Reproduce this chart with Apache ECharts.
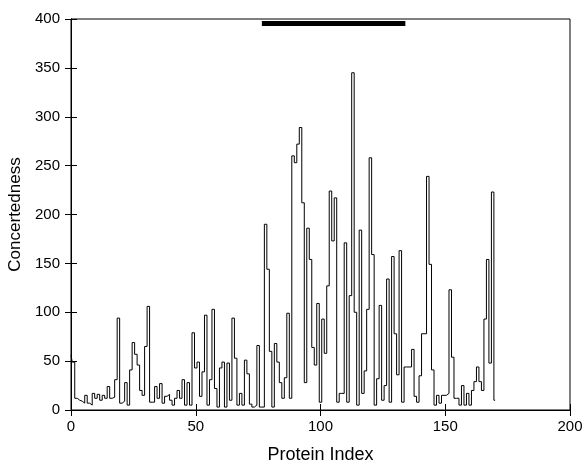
<!DOCTYPE html>
<html>
<head>
<meta charset="utf-8">
<script src="https://cdn.jsdelivr.net/npm/echarts@6/dist/echarts.min.js"></script>
<style>
  html, body { margin: 0; padding: 0; background: #fff; }
  #main { width: 584px; height: 464px; }
</style>
</head>
<body>
<div id="main"></div>
<script>
// concertedness per protein index (0..170)
const concertedness = [
  56, 49, 12, 10, 9, 7, 15, 7, 5, 17,
  12, 16, 10, 15, 12, 24, 12, 13, 31, 94,
  7, 9, 28, 5, 41, 69, 57, 46, 20, 15,
  65, 106, 8, 8, 24, 12, 27, 7, 14, 16,
  10, 5, 12, 20, 12, 31, 5, 28, 5, 79,
  43, 49, 14, 39, 97, 5, 31, 103, 22, 3,
  43, 49, 3, 48, 10, 94, 53, 5, 17, 5,
  51, 37, 6, 3, 5, 66, 3, 3, 190, 144,
  60, 3, 68, 49, 28, 12, 33, 99, 12, 260,
  253, 272, 289, 212, 28, 186, 154, 64, 46, 109,
  8, 93, 58, 127, 224, 173, 217, 8, 17, 17,
  171, 8, 117, 345, 100, 5, 184, 17, 40, 103,
  258, 159, 5, 32, 107, 10, 25, 134, 8, 157,
  78, 36, 163, 8, 44, 44, 44, 62, 14, 8,
  35, 78, 78, 239, 149, 41, 5, 15, 7, 15,
  15, 17, 123, 54, 12, 12, 5, 25, 5, 17,
  5, 20, 29, 44, 29, 20, 93, 154, 48, 223,
  10
];
// thick marker bar near the top of the plot
const barRange = [76.5, 134];
const barLevel = 395.5;

const xTicks = { min: 0, max: 200, interval: 50 };
const yTicks = { min: 0, max: 400, interval: 50 };

const font = 'Liberation Sans, Arial, Helvetica, sans-serif';
const stepData = concertedness.map((v, i) => [i, v]);

const chart = echarts.init(document.getElementById('main'), null, { renderer: 'canvas' });

const tick = { show: true, inside: true, length: 6, lineStyle: { color: '#000', width: 1 } };

chart.setOption({
  animation: false,
  grid: {
    left: 71, right: 14, top: 19, bottom: 54,
    outerBoundsMode: 'none', containLabel: false,
    show: true, borderColor: '#000', borderWidth: 1
  },
  xAxis: [
    {
      type: 'value', ...xTicks,
      name: 'Protein Index', nameLocation: 'middle', nameGap: 36,
      nameTextStyle: { fontFamily: font, fontSize: 18, color: '#000' },
      axisLine: { show: true, lineStyle: { color: '#000' } },
      axisTick: tick,
      axisLabel: { fontFamily: font, fontSize: 15, color: '#000', margin: 9 },
      splitLine: { show: false }
    },
    {
      type: 'value', ...xTicks, position: 'top',
      axisLine: { show: true, lineStyle: { color: '#000' } },
      axisTick: tick, axisLabel: { show: false }, splitLine: { show: false }
    }
  ],
  yAxis: [
    {
      type: 'value', ...yTicks,
      name: 'Concertedness', nameLocation: 'middle', nameGap: 36,
      nameTextStyle: { fontFamily: font, fontSize: 17, color: '#000' },
      axisLine: { show: true, lineStyle: { color: '#000' } },
      axisTick: tick,
      axisLabel: { fontFamily: font, fontSize: 15, color: '#000', margin: 11 },
      splitLine: { show: false }
    },
    {
      type: 'value', ...yTicks, position: 'right',
      axisLine: { show: true, lineStyle: { color: '#000' } },
      axisTick: tick, axisLabel: { show: false }, splitLine: { show: false }
    }
  ],
  series: [
    {
      type: 'line', step: 'middle', data: stepData,
      showSymbol: false, symbol: 'none',
      lineStyle: { color: '#000', width: 1 },
      xAxisIndex: 0, yAxisIndex: 0
    },
    {
      type: 'line', data: [[barRange[0], barLevel], [barRange[1], barLevel]],
      showSymbol: false, symbol: 'none',
      lineStyle: { color: '#000', width: 5, cap: 'butt' },
      xAxisIndex: 0, yAxisIndex: 0
    }
  ]
});
</script>
</body>
</html>
